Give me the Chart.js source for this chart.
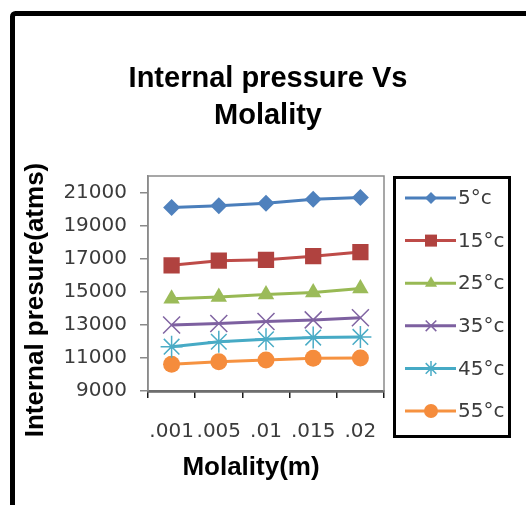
<!DOCTYPE html>
<html>
<head>
<meta charset="utf-8">
<script src="https://cdn.jsdelivr.net/npm/chart.js@4"></script>
<style>
  html, body { margin: 0; padding: 0; background: #fff; }
  #wrap { position: relative; width: 526px; height: 505px; }
</style>
</head>
<body>
<div id="wrap"><canvas id="chartCanvas" width="526" height="505"></canvas></div>
<script>
// molality categories and internal pressure (atms) per temperature
const molality = ['.001', '.005', '.01', '.015', '.02'];
const temps = ['5°c', '15°c', '25°c', '35°c', '45°c', '55°c'];
const p5 = [20100, 20200, 20350, 20600, 20700];
const p15 = [16600, 16880, 16930, 17150, 17400];
const p25 = [14580, 14680, 14830, 14950, 15200];
const p35 = [12990, 13080, 13200, 13300, 13430];
const p45 = [11680, 11980, 12130, 12230, 12270];
const p55 = [10620, 10770, 10880, 10980, 10990];
const yTicks = [9000, 11000, 13000, 15000, 17000, 19000, 21000];

const lineColors = ['#4A7EBB', '#BE4B48', '#98B954', '#7D60A0', '#46AAC5', '#F69240'];
const fillColors = ['#4F81BD', '#B0423F', '#9BBB59', '#8064A2', '#4BACC6', '#F58C3C'];
const styles = ['rectRot', 'rect', 'triangle', 'crossRot', 'star', 'circle'];
const radii = [8.5, 11.5, 9.5, 12, 11, 8.5];
const legendRadii = [6, 8.5, 7, 7.5, 7.5, 7];

const series = [p5, p15, p25, p35, p45, p55];

const datasets = series.map(function (vals, i) {
    const stroked = styles[i] === 'crossRot' || styles[i] === 'star';
    return {
        label: temps[i],
        data: vals,
        borderColor: lineColors[i],
        backgroundColor: fillColors[i],
        pointBackgroundColor: fillColors[i],
        pointBorderColor: fillColors[i],
        pointBorderWidth: stroked ? 1.5 : 0,
        borderWidth: 3,
        pointStyle: styles[i],
        pointRadius: radii[i],
        tension: 0
    };
});

const tickFont = { family: 'DejaVu Sans', size: 20 };
const tickColor = '#3b3b3b';

// frame, plot border, titles and the boxed legend
const decor = {
    id: 'decor',
    beforeDraw(chart) {
        const ctx = chart.ctx;
        ctx.save();
        ctx.fillStyle = '#fff';
        ctx.fillRect(0, 0, chart.width, chart.height);
        ctx.strokeStyle = '#000';
        ctx.lineWidth = 5;
        ctx.beginPath();
        ctx.roundRect(12.5, 13.5, 600, 600, 3);
        ctx.stroke();
        ctx.restore();
    },
    beforeDatasetsDraw(chart) {
        const a = chart.chartArea;
        const ctx = chart.ctx;
        ctx.save();
        ctx.strokeStyle = '#8a8a8a';
        ctx.lineWidth = 1.5;
        ctx.strokeRect(a.left, a.top, a.right - a.left, a.bottom - a.top);
        ctx.restore();
    },
    afterDraw(chart) {
        const ctx = chart.ctx;
        ctx.save();
        ctx.fillStyle = '#000';
        ctx.textAlign = 'center';
        ctx.textBaseline = 'alphabetic';
        ctx.font = 'bold 29px "Liberation Sans"';
        ctx.fillText('Internal pressure Vs', 268, 87);
        ctx.fillText('Molality', 268, 124);

        ctx.font = 'bold 26px "Liberation Sans"';
        ctx.fillText('Molality(m)', 251, 475);

        ctx.translate(43, 300);
        ctx.rotate(-Math.PI / 2);
        ctx.font = 'bold 26px "Liberation Sans"';
        ctx.fillText('Internal presure(atms)', 0, 0);
        ctx.restore();

        // legend box
        ctx.save();
        ctx.strokeStyle = '#000';
        ctx.lineWidth = 3;
        ctx.strokeRect(394.5, 177.5, 115, 259);
        ctx.font = '20px "DejaVu Sans"';
        ctx.textAlign = 'left';
        ctx.textBaseline = 'middle';
        chart.data.datasets.forEach(function (ds, i) {
            const y = 198 + i * 42.6;
            ctx.strokeStyle = ds.borderColor;
            ctx.lineWidth = 3;
            ctx.beginPath();
            ctx.moveTo(405, y);
            ctx.lineTo(456, y);
            ctx.stroke();
            ctx.fillStyle = ds.pointBackgroundColor;
            ctx.strokeStyle = ds.pointBorderColor;
            ctx.lineWidth = ds.pointBorderWidth || 0.01;
            Chart.helpers.drawPoint(ctx, { pointStyle: ds.pointStyle, radius: legendRadii[i], rotation: 0, borderWidth: ds.pointBorderWidth }, 431, y);
            ctx.fillStyle = tickColor;
            ctx.fillText(ds.label, 458, y + 1);
        });
        ctx.restore();
    }
};

new Chart(document.getElementById('chartCanvas'), {
    type: 'line',
    data: { labels: molality, datasets: datasets },
    options: {
        responsive: false,
        animation: false,
        events: [],
        layout: { padding: { left: 20, top: 176, right: 142, bottom: 54 } },
        plugins: {
            legend: { display: false },
            title: { display: false },
            tooltip: { enabled: false }
        },
        scales: {
            x: {
                offset: true,
                afterFit: function (s) { s.height = 60; },
                grid: { offset: true, drawOnChartArea: false, drawTicks: true, tickLength: 7, color: '#1a1a1a', lineWidth: 1.5 },
                border: { color: '#1a1a1a', width: 2.5 },
                ticks: { font: tickFont, color: tickColor, padding: 22, maxRotation: 0, autoSkip: false }
            },
            y: {
                min: 9000,
                max: 22000,
                afterFit: function (s) { s.width = 128; },
                afterBuildTicks: function (s) { s.ticks = yTicks.map(function (v) { return { value: v }; }); },
                grid: { drawOnChartArea: false, drawTicks: true, tickLength: 8, color: '#8a8a8a', lineWidth: 1.5 },
                border: { color: '#8a8a8a', width: 1.5 },
                ticks: { font: tickFont, color: tickColor, padding: 13, callback: function (v) { return String(v); } }
            }
        }
    },
    plugins: [decor]
});
</script>
</body>
</html>
